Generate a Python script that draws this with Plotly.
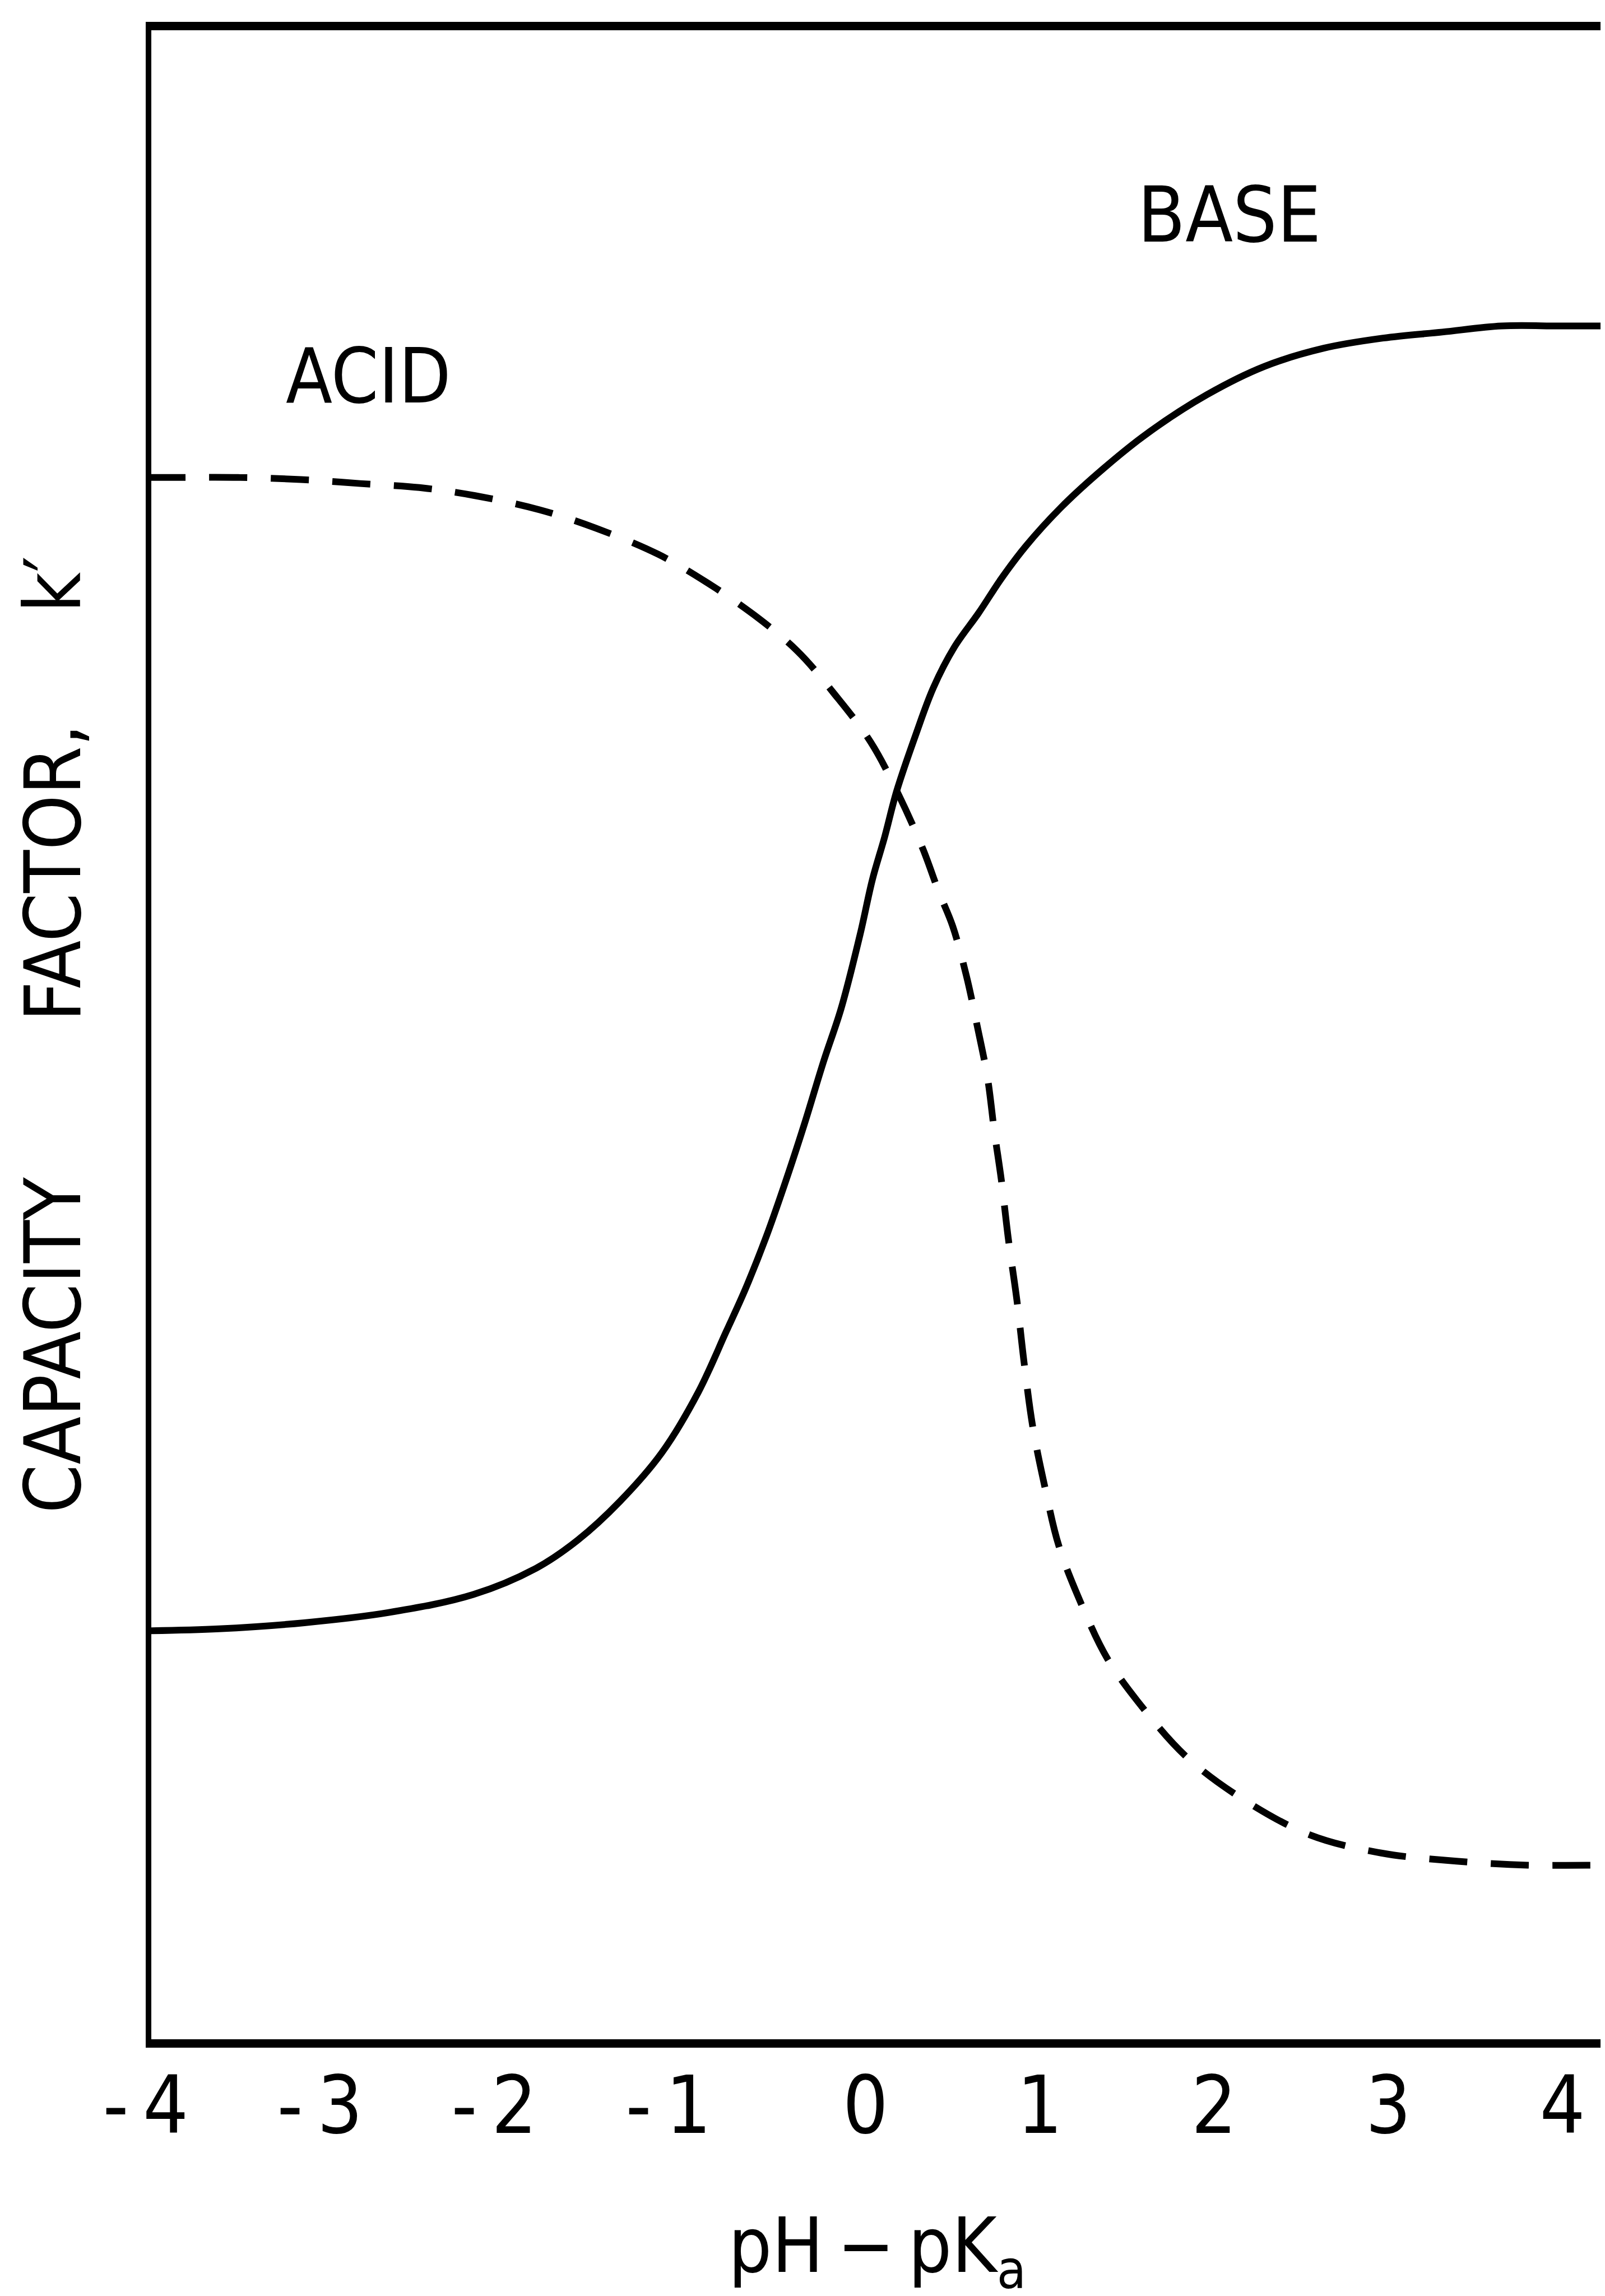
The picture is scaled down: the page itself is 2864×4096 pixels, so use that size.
import plotly.graph_objects as go

# ---- data (x = pH - pKa, y = capacity factor k', arbitrary units) ----
base_ph = [-4.12, -3.71, -3.22, -2.74, -2.25, -1.89, -1.65, -1.41, -1.17, -0.96,
           -0.80, -0.69, -0.57, -0.46, -0.35, -0.24, -0.14, -0.03, 0.04, 0.11,
           0.18, 0.29, 0.39, 0.51, 0.65, 0.78, 0.92, 1.12, 1.36, 1.62,
           1.96, 2.29, 2.63, 2.97, 3.31, 3.65, 3.98, 4.24]
base_k = [2.05, 2.06, 2.09, 2.14, 2.23, 2.36, 2.50, 2.69, 2.93, 3.23,
          3.53, 3.74, 4.00, 4.27, 4.56, 4.87, 5.13, 5.50, 5.77, 5.98,
          6.21, 6.49, 6.72, 6.92, 7.09, 7.26, 7.42, 7.61, 7.80, 7.98,
          8.17, 8.31, 8.40, 8.45, 8.48, 8.51, 8.51, 8.51]

acid_ph = [-4.12, -3.97, -3.60, -3.24, -2.90, -2.56, -2.24, -1.87, -1.55, -1.19,
           -0.91, -0.64, -0.39, -0.18, 0.03, 0.19, 0.33, 0.42, 0.50, 0.58,
           0.64, 0.70, 0.74, 0.78, 0.82, 0.87, 0.91, 0.96, 1.03, 1.11,
           1.24, 1.39, 1.60, 1.85, 2.16, 2.55, 2.96, 3.39, 3.80, 4.14, 4.24]
acid_k = [7.76, 7.76, 7.76, 7.75, 7.73, 7.71, 7.67, 7.60, 7.51, 7.38,
          7.24, 7.08, 6.90, 6.69, 6.45, 6.19, 5.92, 5.71, 5.54, 5.29,
          5.05, 4.79, 4.52, 4.28, 3.99, 3.68, 3.38, 3.06, 2.76, 2.47,
          2.18, 1.91, 1.66, 1.42, 1.22, 1.04, 0.95, 0.91, 0.89, 0.89, 0.89]

tick_values = [-4, -3, -2, -1, 0, 1, 2, 3, 4]
tick_labels = ["-4", "-3", "-2", "-1", "0", "1", "2", "3", "4"]

x_title = "pH\u2009−\u2009pK<sub>a</sub>"
y_title = "CAPACITY" + "\u00a0" * 7 + "FACTOR," + "\u00a0" * 5 + "k′"

FONT = "DejaVu Sans Condensed, Roboto, sans-serif"


def tick_text(label):
    # keep the digit centred on its tick: the minus sign hangs to the left
    if label.startswith("-"):
        return "-\u2009" + label[1:] + "\u00a0\u00a0"
    return label


fig = go.Figure()
fig.add_trace(go.Scatter(
    x=base_ph, y=base_k, mode="lines", name="BASE", showlegend=False,
    line=dict(color="black", width=12, shape="spline", smoothing=1.0),
))
fig.add_trace(go.Scatter(
    x=acid_ph, y=acid_k, mode="lines", name="ACID", showlegend=False,
    line=dict(color="black", width=12, dash="68px,42px", shape="spline", smoothing=1.0),
))

fig.add_annotation(x=-2.853, y=8.26, text="ACID", showarrow=False,
                   font=dict(family=FONT, size=135, color="black"),
                   xanchor="center", yanchor="middle")
fig.add_annotation(x=2.088, y=9.06, text="BASE", showarrow=False,
                   font=dict(family=FONT, size=138, color="black"),
                   xanchor="center", yanchor="middle")

fig.update_layout(
    template="none",
    width=2864, height=4096,
    margin=dict(l=262, r=11, t=46, b=466, pad=0),
    paper_bgcolor="white", plot_bgcolor="white",
    showlegend=False,
    font=dict(family=FONT, color="black"),
    xaxis=dict(
        range=[-4.098, 4.234], tickmode="array", tickvals=tick_values,
        ticktext=[tick_text(t) for t in tick_labels],
        ticks="", showgrid=False, zeroline=False,
        showline=True, linewidth=15, linecolor="black", mirror=True,
        tickfont=dict(family=FONT, size=142, color="black"),
        ticklabelstandoff=-18, automargin=False,
        title=dict(text=x_title, font=dict(family=FONT, size=136, color="black"), standoff=183),
    ),
    yaxis=dict(
        range=[0.028, 9.974], showticklabels=False, ticks="",
        showgrid=False, zeroline=False,
        showline=True, linewidth=10, linecolor="black", mirror=True,
        automargin=False,
        title=dict(text=y_title, font=dict(family=FONT, size=139, color="black"), standoff=73),
    ),
)

fig.write_html("out.html")
